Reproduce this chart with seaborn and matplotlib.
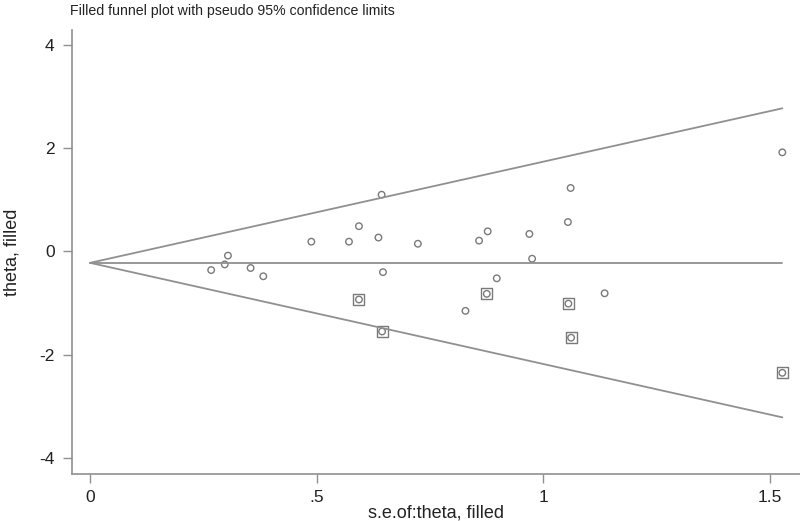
#!/usr/bin/env python3
# -*- coding: utf-8 -*-

import numpy as np
import pandas as pd
import matplotlib
matplotlib.use("Agg")
import matplotlib.pyplot as plt
import seaborn as sns

# observed studies (standard error, effect)
obs_se = [0.267, 0.297, 0.304, 0.354, 0.382, 0.488, 0.571, 0.593, 0.636,
          0.643, 0.646, 0.723, 0.828, 0.858, 0.877, 0.897, 0.969, 0.975,
          1.054, 1.060, 1.135, 1.527]
obs_theta = [-0.36, -0.25, -0.08, -0.32, -0.48, 0.19, 0.19, 0.49, 0.27,
             1.10, -0.40, 0.15, -1.15, 0.21, 0.39, -0.52, 0.34, -0.14,
             0.57, 1.23, -0.81, 1.92]

# studies imputed by trim and fill
fill_se = [0.593, 0.644, 0.875, 1.055, 1.061, 1.527]
fill_theta = [-0.93, -1.55, -0.82, -1.01, -1.67, -2.35]

center = -0.22   # pooled (filled) estimate
z95 = 1.96

x_ticks = [0, 0.5, 1, 1.5]
x_tick_labels = ["0", ".5", "1", "1.5"]
y_ticks = [4, 2, 0, -2, -4]
y_tick_labels = ["4", "2", "0", "-2", "-4"]

GREY = "#7a7a7a"
LINE = "#909090"
TXT = "#222222"


def main():
    sns.set_style("ticks")
    plt.rcParams["font.family"] = ["Liberation Sans", "DejaVu Sans"]

    df_obs = pd.DataFrame({"se": obs_se, "theta": obs_theta})
    df_fill = pd.DataFrame({"se": fill_se, "theta": fill_theta})
    df_all = pd.concat([df_obs, df_fill], ignore_index=True)

    se_max = df_all["se"].max()
    se_grid = np.array([0.0, se_max])
    df_lines = pd.DataFrame({
        "se": np.tile(se_grid, 3),
        "theta": np.concatenate([center + z95 * se_grid,
                                 center - z95 * se_grid,
                                 np.full(2, center)]),
        "which": ["upper"] * 2 + ["lower"] * 2 + ["mid"] * 2,
    })

    fig = plt.figure(figsize=(8, 5.21), dpi=100)
    ax = fig.add_axes([72 / 800, 1 - 474 / 521, (800 - 72) / 800,
                       (474 - 30) / 521])

    for name, grp in df_lines.groupby("which"):
        sns.lineplot(data=grp, x="se", y="theta", color=LINE, lw=1.3,
                     ax=ax, legend=False)

    sns.scatterplot(data=df_all, x="se", y="theta", marker="o", s=22,
                    facecolor="none", edgecolor=GREY, linewidth=1.0,
                    ax=ax, legend=False)
    sns.scatterplot(data=df_fill, x="se", y="theta", marker="s", s=62,
                    facecolor="none", edgecolor=GREY, linewidth=1.0,
                    ax=ax, legend=False)

    ax.set_xlim(-0.04, 1.566)
    ax.set_ylim(-4.31, 4.29)
    ax.set_xticks(x_ticks)
    ax.set_xticklabels(x_tick_labels)
    ax.set_yticks(y_ticks)
    ax.set_yticklabels(y_tick_labels)

    sns.despine(ax=ax)
    for side in ["left", "bottom"]:
        ax.spines[side].set_color(LINE)
        ax.spines[side].set_linewidth(1.2)
    ax.tick_params(axis="both", colors=LINE, labelcolor=TXT,
                   length=6.5, width=1.0, labelsize=12.5)
    ax.tick_params(axis="y", pad=6)
    ax.tick_params(axis="x", pad=5)

    ax.set_xlabel("s.e.of:theta, filled", fontsize=13, color=TXT)
    ax.xaxis.label.set_va("center")
    ax.xaxis.set_label_coords(0.5, -(513 - 474) / 444)
    ax.set_ylabel("theta, filled", fontsize=13, color=TXT)
    ax.yaxis.label.set_va("center")
    ax.yaxis.set_label_coords((12 - 72) / 728, 0.5)

    fig.text(70 / 800, 1 - 15 / 521,
             "Filled funnel plot with pseudo 95% confidence limits",
             fontsize=10.2, color=TXT, ha="left", va="baseline")

    fig.savefig("out.png", dpi=100)


if __name__ == "__main__":
    main()
